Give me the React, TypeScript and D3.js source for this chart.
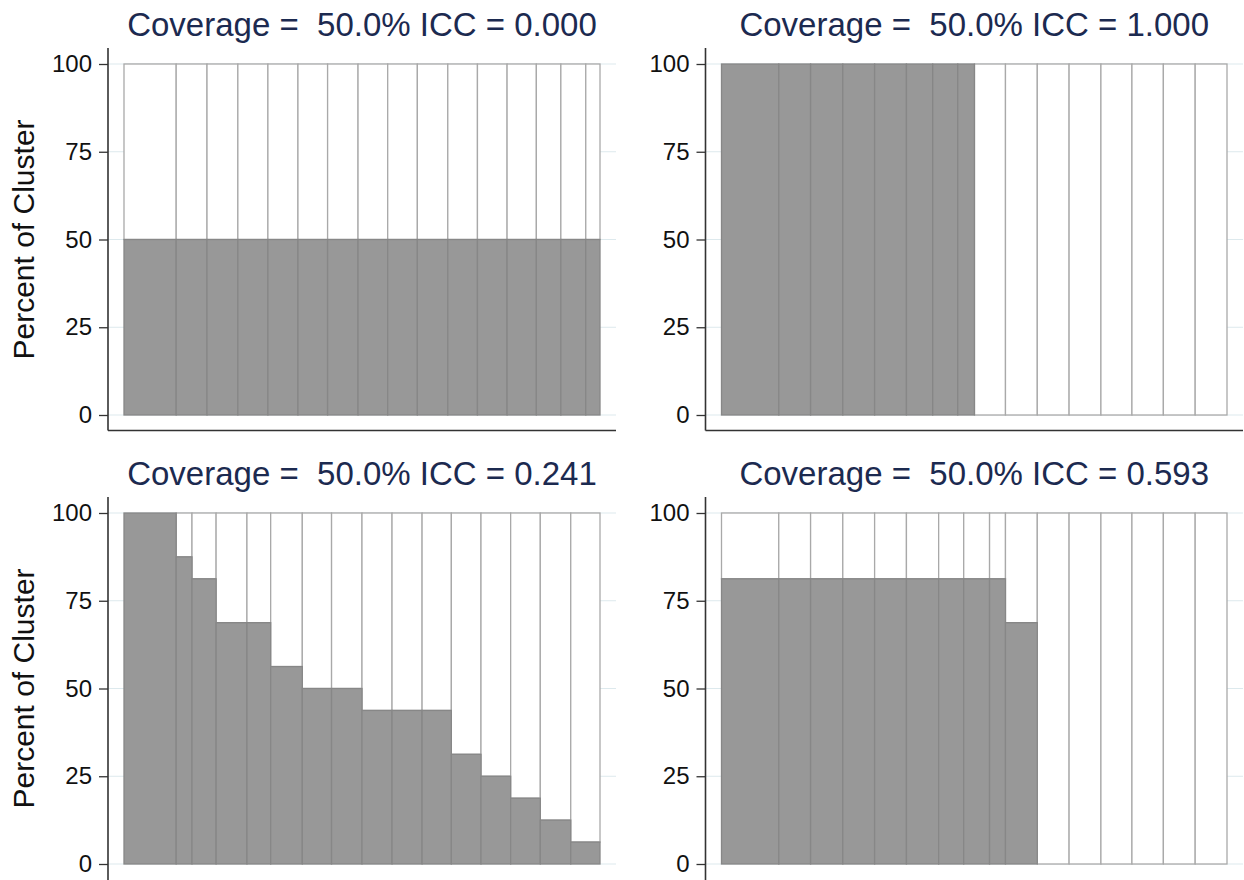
import { useEffect, useRef } from 'react'
import * as d3 from 'd3'

// relative cluster sizes (bar widths) and percent of each cluster covered
const titles = [
  'Coverage =  50.0% ICC = 0.000',
  'Coverage =  50.0% ICC = 1.000',
  'Coverage =  50.0% ICC = 0.241',
  'Coverage =  50.0% ICC = 0.593'
]
const sizesA = [132, 78, 78, 76, 76, 75, 77, 75, 75, 77, 75, 75, 74, 62, 63, 36]
const coveredA = [50, 50, 50, 50, 50, 50, 50, 50, 50, 50, 50, 50, 50, 50, 50, 50]
const sizesB = [144, 80, 81, 80, 80, 66, 63, 42, 78, 80, 80, 80, 78, 79, 80, 80]
const coveredB = [100, 100, 100, 100, 100, 100, 100, 100, 0, 0, 0, 0, 0, 0, 0, 0]
const sizesC = [132, 40, 61, 78, 60, 80, 74, 77, 76, 76, 74, 75, 75, 75, 77, 74]
const coveredC = [100, 87.5, 81.25, 68.75, 68.75, 56.25, 50, 50, 43.75, 43.75, 43.75, 31.25, 25, 18.75, 12.5, 6.25]
const sizesD = [144, 80, 81, 80, 80, 81, 63, 65, 40, 80, 80, 80, 78, 79, 80, 80]
const coveredD = [81.25, 81.25, 81.25, 81.25, 81.25, 81.25, 81.25, 81.25, 81.25, 68.75, 0, 0, 0, 0, 0, 0]
const yTicks = [0, 25, 50, 75, 100]
const yTitle = 'Percent of Cluster'

const panels = [
  { title: titles[0], sizes: sizesA, covered: coveredA, col: 0, row: 0 },
  { title: titles[1], sizes: sizesB, covered: coveredB, col: 1, row: 0 },
  { title: titles[2], sizes: sizesC, covered: coveredC, col: 0, row: 1 },
  { title: titles[3], sizes: sizesD, covered: coveredD, col: 1, row: 1 }
]

const W = 1244
const H = 880
const FONT = '"Liberation Sans", Arial, sans-serif'

export default function App() {
  const svgRef = useRef<SVGSVGElement>(null)

  useEffect(() => {
    if (!svgRef.current) return
    const svg = d3.select(svgRef.current)
    svg.selectAll('*').remove()

    // plot region edges per column / row (bottom row's x axis falls just off the picture)
    const colLeft = [108, 705.5]
    const colRight = [616, 1243]
    const rowTop = [48, 497]
    const rowBottom = [430.5, 881]
    const inset = 16

    panels.forEach(p => {
      const left = colLeft[p.col]
      const right = colRight[p.col]
      const top = rowTop[p.row]
      const bottom = rowBottom[p.row]
      const g = svg.append('g')

      const total = d3.sum(p.sizes)
      const x = d3.scaleLinear().domain([0, total]).range([left + inset, right - inset])
      const y = d3.scaleLinear().domain([0, 100]).range([top + 16 + 351, top + inset])

      // gridlines
      g.selectAll('.grid')
        .data(yTicks)
        .enter().append('line')
        .attr('x1', left)
        .attr('x2', right)
        .attr('y1', d => y(d))
        .attr('y2', d => y(d))
        .attr('stroke', '#dde9ed')
        .attr('stroke-width', 1.2)

      const starts = d3.cumsum([0, ...p.sizes])
      const bars = p.sizes.map((s, i) => ({ x0: starts[i], x1: starts[i] + s, v: p.covered[i] }))

      // uncovered part (white)
      g.selectAll('.top')
        .data(bars.filter(d => d.v < 100))
        .enter().append('rect')
        .attr('x', d => x(d.x0))
        .attr('width', d => x(d.x1) - x(d.x0))
        .attr('y', y(100))
        .attr('height', d => y(d.v) - y(100))
        .attr('fill', '#ffffff')
        .attr('stroke', '#a9a9a9')
        .attr('stroke-width', 1.3)

      // covered part (gray)
      g.selectAll('.bot')
        .data(bars.filter(d => d.v > 0))
        .enter().append('rect')
        .attr('x', d => x(d.x0))
        .attr('width', d => x(d.x1) - x(d.x0))
        .attr('y', d => y(d.v))
        .attr('height', d => y(0) - y(d.v))
        .attr('fill', '#989898')
        .attr('stroke', '#878787')
        .attr('stroke-width', 1.3)

      // y axis
      const ax = g.append('g')
        .attr('transform', `translate(${left},0)`)
        .call(d3.axisLeft(y).tickValues(yTicks).tickSize(9).tickPadding(7).tickFormat(d3.format('d')))
      ax.select('.domain').remove()
      ax.selectAll('.tick line').attr('stroke', '#333').attr('stroke-width', 1.3)
      ax.selectAll('.tick text')
        .attr('fill', '#111')
        .style('font-family', FONT)
        .style('font-size', '24px')

      g.append('line')
        .attr('x1', left).attr('x2', left)
        .attr('y1', top).attr('y2', bottom)
        .attr('stroke', '#333').attr('stroke-width', 1.6)
      g.append('line')
        .attr('x1', left).attr('x2', right)
        .attr('y1', bottom).attr('y2', bottom)
        .attr('stroke', '#333').attr('stroke-width', 1.6)

      // title
      g.append('text')
        .attr('x', (left + right) / 2)
        .attr('y', top - 12)
        .attr('text-anchor', 'middle')
        .attr('fill', '#1c2a50')
        .style('font-family', FONT)
        .style('font-size', '33px')
        .style('white-space', 'pre')
        .text(p.title)

      if (p.col === 0) {
        const cy = (y(0) + y(100)) / 2
        g.append('text')
          .attr('transform', `translate(${34},${cy}) rotate(-90)`)
          .attr('text-anchor', 'middle')
          .attr('fill', '#111')
          .style('font-family', FONT)
          .style('font-size', '30px')
          .text(yTitle)
      }
    })
  }, [])

  return (
    <svg
      ref={svgRef}
      width={W}
      height={H}
      style={{ position: 'absolute', left: 0, top: 0, background: '#fff' }}
    />
  )
}
